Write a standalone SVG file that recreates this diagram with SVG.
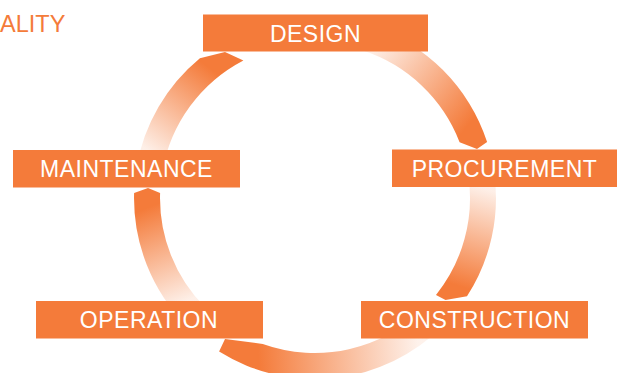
<svg xmlns="http://www.w3.org/2000/svg" width="620" height="373" viewBox="0 0 620 373">
  <style>
    .box { fill: #F47B3A; }
    .lbl { fill: #FFFFFF; font-family: "Liberation Sans", Arial, sans-serif; font-size: 23px; letter-spacing: 0.5px; text-anchor: middle; }
    .title { fill: #F47B3A; font-family: "Liberation Sans", Arial, sans-serif; font-size: 23.5px; }
  </style>
  <defs>
    <linearGradient id="g1" gradientUnits="userSpaceOnUse" x1="150" y1="152" x2="218" y2="60">
      <stop offset="0" stop-color="#F47B3A" stop-opacity="0.12"/>
      <stop offset="0.9" stop-color="#F47B3A" stop-opacity="1"/>
    </linearGradient>
    <linearGradient id="g2" gradientUnits="userSpaceOnUse" x1="370" y1="48" x2="478" y2="135">
      <stop offset="0" stop-color="#F47B3A" stop-opacity="0.1"/>
      <stop offset="0.9" stop-color="#F47B3A" stop-opacity="1"/>
    </linearGradient>
    <linearGradient id="g3" gradientUnits="userSpaceOnUse" x1="482" y1="188" x2="450" y2="295">
      <stop offset="0" stop-color="#F47B3A" stop-opacity="0.12"/>
      <stop offset="0.9" stop-color="#F47B3A" stop-opacity="1"/>
    </linearGradient>
    <linearGradient id="g4" gradientUnits="userSpaceOnUse" x1="418" y1="340" x2="240" y2="350">
      <stop offset="0" stop-color="#F47B3A" stop-opacity="0.1"/>
      <stop offset="0.9" stop-color="#F47B3A" stop-opacity="1"/>
    </linearGradient>
    <linearGradient id="g5" gradientUnits="userSpaceOnUse" x1="188" y1="300" x2="147" y2="196">
      <stop offset="0" stop-color="#F47B3A" stop-opacity="0.12"/>
      <stop offset="0.9" stop-color="#F47B3A" stop-opacity="1"/>
    </linearGradient>
  </defs>

  <text class="title" x="0" y="32">ALITY</text>

  <g id="connectors">
    <path id="c-maint-design" fill="url(#g1)" d="M 136.7 166.6 A 181 181 0 0 1 199.9 58.3 L 225 52 L 243.4 60.5 A 155 155 0 0 0 162.4 171.1 Z"/>
    <path id="c-design-proc" fill="url(#g2)" d="M 370.9 25.9 A 181 181 0 0 1 487.1 142.1 L 477 149 L 459.6 142.2 A 155 155 0 0 0 362.9 50.6 Z"/>
    <path id="c-proc-constr" fill="url(#g3)" d="M 494.2 172.8 A 181 181 0 0 1 467 296.3 L 445.5 300 L 436 294.9 A 155 155 0 0 0 468.5 176.4 Z"/>
    <path id="c-constr-oper" fill="url(#g4)" d="M 443 326 A 181 181 0 0 1 219.1 351.5 L 225 339 L 262.8 343.9 A 155 155 0 0 0 424.6 307.6 Z"/>
    <path id="c-oper-maint" fill="url(#g5)" d="M 187 326 A 181 181 0 0 1 134.1 192.9 L 148 188 L 160.1 192.9 A 155 155 0 0 0 205.4 307.6 Z"/>
  </g>

  <g id="design">
    <rect class="box" x="203" y="14.5" width="225" height="37"/>
    <text class="lbl" x="315.5" y="41.8">DESIGN</text>
  </g>
  <g id="maintenance">
    <rect class="box" x="13" y="150" width="227" height="37.5"/>
    <text class="lbl" x="126.5" y="177.3">MAINTENANCE</text>
  </g>
  <g id="procurement">
    <rect class="box" x="392" y="149.5" width="225" height="37.5"/>
    <text class="lbl" x="504.5" y="177">PROCUREMENT</text>
  </g>
  <g id="operation">
    <rect class="box" x="36" y="301" width="227" height="37.5"/>
    <text class="lbl" x="149" y="328.3">OPERATION</text>
  </g>
  <g id="construction">
    <rect class="box" x="361" y="301" width="227" height="37.5"/>
    <text class="lbl" x="474.5" y="328.3">CONSTRUCTION</text>
  </g>
</svg>
